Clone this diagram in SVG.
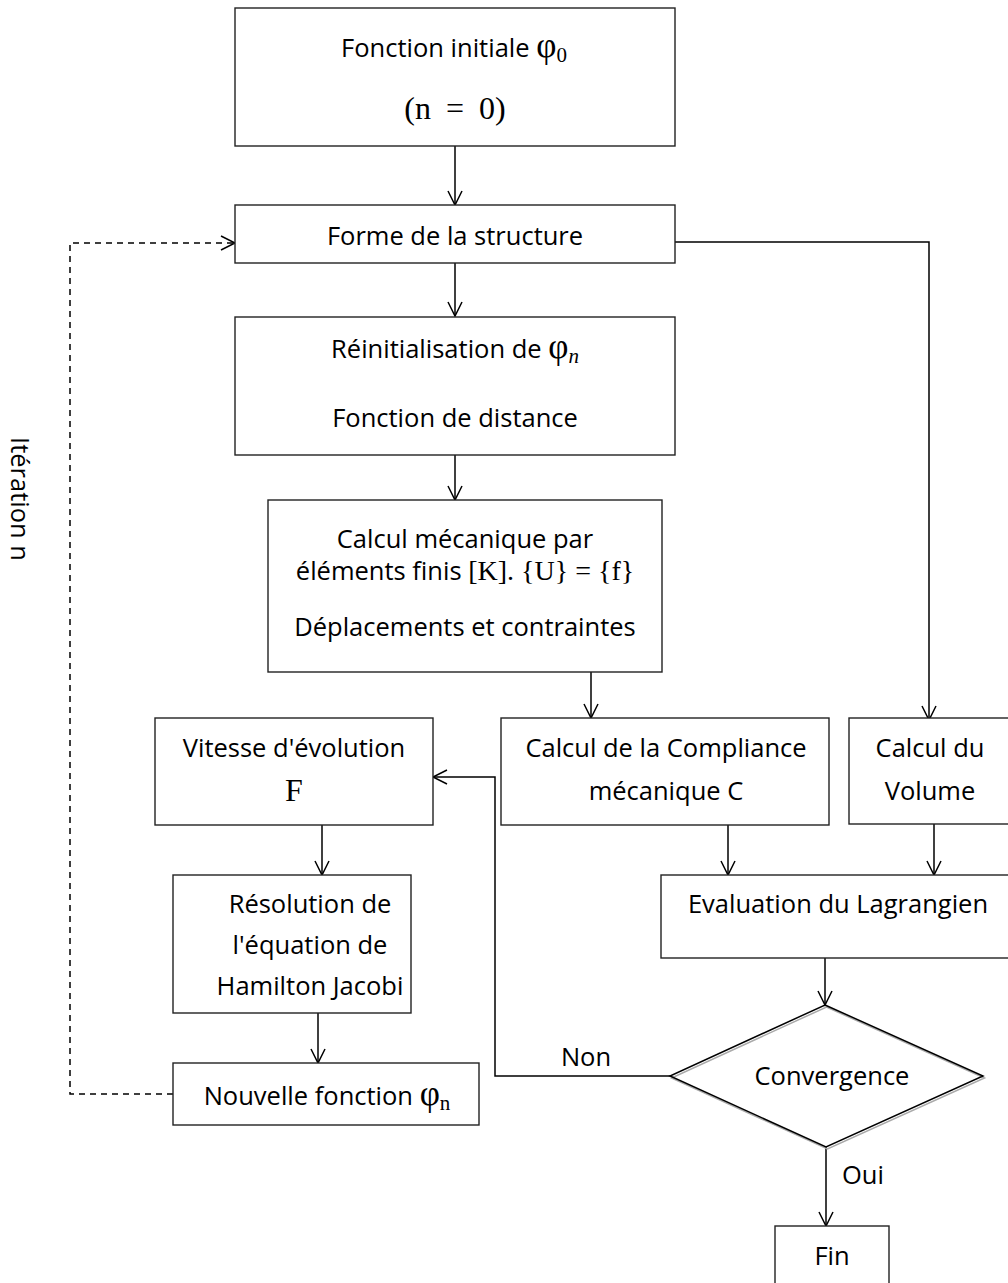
<svg xmlns="http://www.w3.org/2000/svg" width="1008" height="1283" viewBox="0 0 1008 1283">
<style>
.box{fill:#fff;stroke:#222;stroke-width:1.4}
.t{font-family:"Open Sans","Liberation Sans",sans-serif;font-size:25.5px;fill:#000;text-anchor:middle}
.m{font-family:"Liberation Serif","DejaVu Serif",serif}
.phi{font-family:"Liberation Serif","DejaVu Serif",serif;font-size:35px}
.sub{font-family:"Liberation Serif","DejaVu Serif",serif;font-size:21px}
.c{fill:none;stroke:#000;stroke-width:1.5}
.d{fill:none;stroke:#000;stroke-width:1.5;stroke-dasharray:6 5}
</style>
<defs>
<marker id="ah" viewBox="-16 -9 18 18" refX="0" refY="0" markerWidth="18" markerHeight="18" markerUnits="userSpaceOnUse" orient="auto">
<path d="M-14,-7 L0,0 L-14,7" fill="none" stroke="#000" stroke-width="1.5"/>
</marker>
</defs>
<rect width="1008" height="1283" fill="#fff"/>
<g id="connectors">
<path class="c" d="M455,146 V205" marker-end="url(#ah)"/>
<path class="c" d="M455,263 V316" marker-end="url(#ah)"/>
<path class="c" d="M455,455 V500" marker-end="url(#ah)"/>
<path class="c" d="M591,672 V718" marker-end="url(#ah)"/>
<path class="c" d="M672,242 H929 V720" marker-end="url(#ah)"/>
<path class="c" d="M728,825 V875" marker-end="url(#ah)"/>
<path class="c" d="M934,820 V875" marker-end="url(#ah)"/>
<path class="c" d="M825,958 V1005" marker-end="url(#ah)"/>
<path class="c" d="M670,1076 H495 V777 H433" marker-end="url(#ah)"/>
<path class="c" d="M322,825 V875" marker-end="url(#ah)"/>
<path class="c" d="M318,1013 V1063" marker-end="url(#ah)"/>
<path class="d" d="M173,1094 H70 V243 H235" marker-end="url(#ah)"/>
<path class="c" d="M826,1147 V1226" marker-end="url(#ah)"/>
<text class="t" x="586" y="1066">Non</text>
<text class="t" x="863" y="1184">Oui</text>
<text class="t" transform="translate(11,499) rotate(90)">Itération n</text>
</g>
<g id="n1">
<rect class="box" x="235" y="8" width="440" height="138"/>
<text class="t" x="454" y="57">Fonction initiale <tspan class="phi">φ</tspan><tspan class="sub" dy="5">0</tspan></text>
<text class="t" x="455" y="119" style="font-family:'Liberation Serif','DejaVu Serif',serif;font-size:32px;word-spacing:7px">(n = 0)</text>
</g>
<g id="n2">
<rect class="box" x="235" y="205" width="440" height="58"/>
<text class="t" x="455" y="245">Forme de la structure</text>
</g>
<g id="n3">
<rect class="box" x="235" y="317" width="440" height="138"/>
<text class="t" x="455" y="358">Réinitialisation de <tspan class="phi">φ</tspan><tspan class="sub" font-style="italic" dy="5">n</tspan></text>
<text class="t" x="455" y="427">Fonction de distance</text>
</g>
<g id="n4">
<rect class="box" x="268" y="500" width="394" height="172"/>
<text class="t" x="465" y="548">Calcul mécanique par</text>
<text class="t" x="465" y="580">éléments finis <tspan class="m" style="font-size:28px">[K]. {U} = {f}</tspan></text>
<text class="t" x="465" y="636">Déplacements et contraintes</text>
</g>
<g id="n5">
<rect class="box" x="501" y="718" width="328" height="107"/>
<text class="t" x="666" y="757">Calcul de la Compliance</text>
<text class="t" x="666" y="800">mécanique C</text>
</g>
<g id="n6">
<rect class="box" x="849" y="718" width="170" height="106"/>
<text class="t" x="930" y="757">Calcul du</text>
<text class="t" x="930" y="800">Volume</text>
</g>
<g id="n7">
<rect class="box" x="155" y="718" width="278" height="107"/>
<text class="t" x="294" y="757">Vitesse d'évolution</text>
<text class="t" x="294" y="801" style="font-family:'Liberation Serif','DejaVu Serif',serif;font-size:32px">F</text>
</g>
<g id="n8">
<rect class="box" x="173" y="875" width="238" height="138"/>
<text class="t" x="310" y="913">Résolution de</text>
<text class="t" x="310" y="954">l'équation de</text>
<text class="t" x="310" y="995">Hamilton Jacobi</text>
</g>
<g id="n9">
<rect class="box" x="661" y="875" width="360" height="83"/>
<text class="t" x="838" y="913">Evaluation du Lagrangien</text>
</g>
<g id="n10">
<polygon points="825,1005 983,1076 826,1147 670,1076" fill="none" stroke="#aaa" stroke-width="1.5" transform="translate(1.5,2)"/>
<polygon points="825,1005 983,1076 826,1147 670,1076" fill="none" stroke="#000" stroke-width="1.5"/>
<text class="t" x="832" y="1085">Convergence</text>
</g>
<g id="n11">
<rect class="box" x="173" y="1063" width="306" height="62"/>
<text class="t" x="327" y="1105">Nouvelle fonction <tspan class="phi">φ</tspan><tspan class="sub" dy="5">n</tspan></text>
</g>
<g id="n12">
<rect class="box" x="775" y="1226" width="114" height="70"/>
<text class="t" x="832" y="1265">Fin</text>
</g>
</svg>
